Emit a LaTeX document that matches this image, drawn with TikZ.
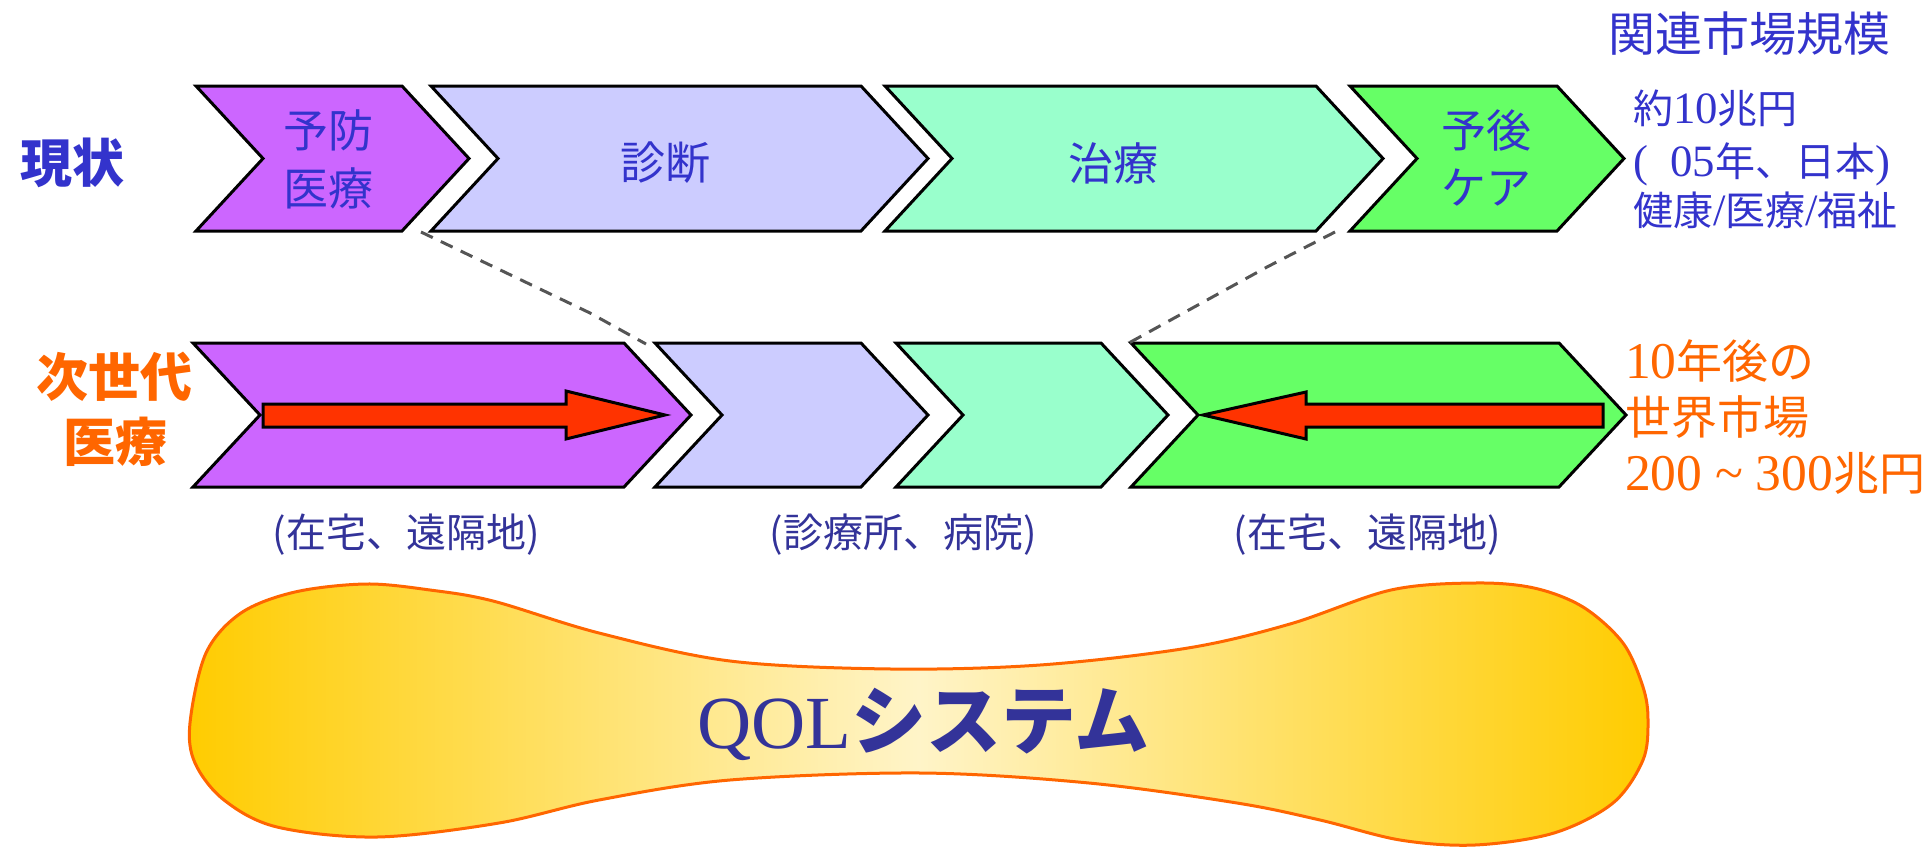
\documentclass[tikz,border=0pt]{standalone}
\usepackage{fontspec}
\setmainfont{Liberation Serif}
\newfontfamily\jp{Noto Sans CJK JP}
\newfontfamily\sr{Liberation Serif}[Scale=1.12]
\definecolor{cpurple}{HTML}{CC66FF}
\definecolor{clav}{HTML}{CCCCFF}
\definecolor{cmint}{HTML}{99FFCC}
\definecolor{cgreen}{HTML}{66FF66}
\definecolor{cred}{HTML}{FF3300}
\definecolor{cblue}{HTML}{3333CC}
\definecolor{cnavy}{HTML}{333399}
\definecolor{corange}{HTML}{FF6600}
\definecolor{cgold}{HTML}{FFCC00}
\definecolor{ccream}{HTML}{FFF4C8}
\definecolor{cgray}{HTML}{555555}
\newcommand\fs[1]{\fontsize{#1}{#1}\selectfont}
% chevron: #1 name, #2 left x, #3 corner x, #4 top y, #5 bottom y, #6 fill
\newcommand\chevron[6]{%
  \path[chev, fill=#6] (#2,#4) -- (#3,#4) -- ({#3+67},{(#4+#5)/2}) -- (#3,#5)
    -- (#2,#5) -- ({#2+67},{(#4+#5)/2}) -- cycle;
  \coordinate (#1-nw) at (#2,#4);
  \coordinate (#1-sw) at (#2,#5);
  \coordinate (#1-ne) at (#3,#4);
  \coordinate (#1-se) at (#3,#5);
}
\begin{document}
\begin{tikzpicture}[x=1pt,y=-1pt,
  chev/.style={draw=black, line width=3pt, line join=miter},
  redarrow/.style={draw=black, fill=cred, line width=3pt, line join=miter},
  dashline/.style={draw=cgray, line width=3pt, dash pattern=on 13pt off 9pt},
  lbl/.style={inner sep=0pt, outer sep=0pt},
  boxtxt/.style={lbl, text=cblue, font=\jp\fs{45}},
  rowtitle/.style={lbl, font=\jp\bfseries\fs{52}},
  sitetxt/.style={lbl, text=cnavy, font=\jp\fs{40}},
  bluenote/.style={lbl, anchor=base west, text=cblue, font=\sr\fs{40}},
  orangenote/.style={lbl, anchor=base west, text=corange, font=\sr\fs{46}}]
\useasboundingbox (0,0) rectangle (1930,846);

% QOL blob
\path[draw=corange, line width=3pt, left color=cgold, right color=cgold, middle color=ccream]
  plot[smooth cycle, tension=0.55] coordinates {
  (190,723) (206,653) (241,613) (295,592) (366,584) (430,590) (493,601)
  (599,633) (730,661) (891,669) (1040,665) (1188,648) (1290,624) (1391,590)
  (1475,583) (1534,588) (1583,607) (1623,643) (1643,687) (1648,720)
  (1643,760) (1613,803) (1554,833) (1475,845) (1400,840) (1320,820)
  (1237,803) (1089,783) (921,773) (730,780) (599,800) (499,823) (377,837)
  (277,827) (224,800) (195,763)};
\node[lbl, anchor=base, text=cnavy, font=\fs{75}] (qol) at (923,748) {QOL{\jp\bfseries システム}};

% top row
\chevron{t1}{196}{402}{86}{231}{cpurple}
\chevron{t2}{431}{861}{86}{231}{clav}
\chevron{t3}{885}{1316}{86}{231}{cmint}
\chevron{t4}{1350}{1557}{86}{231}{cgreen}

% bottom row
\chevron{b1}{193}{624}{343}{487}{cpurple}
\chevron{b2}{655}{861}{343}{487}{clav}
\chevron{b3}{896}{1101}{343}{487}{cmint}
\chevron{b4}{1131}{1559}{343}{487}{cgreen}

% red arrows
\path[redarrow] (263,404) -- (566,404) -- (566,391) -- (665,415) -- (566,439)
  -- (566,427) -- (263,427) -- cycle;
\path[redarrow] (1203,415) -- (1306,392) -- (1306,404) -- (1603,404) -- (1603,427)
  -- (1306,427) -- (1306,439) -- cycle;

% dashed connectors
\coordinate (d1s) at (421,232);
\coordinate (d1e) at (646,344);
\coordinate (d2s) at (1335,232);
\coordinate (d2e) at (1127,344);
\draw[dashline] (d1s) -- (590,313) -- (d1e);
\draw[dashline] (d2s) -- (1267,267) -- (d2e);

% texts top row
\node[rowtitle, text=cblue] (genjo) at (72,163) {現状};
\node[boxtxt] (yobo1) at (328,130) {予防};
\node[boxtxt] (yobo2) at (328,188) {医療};
\node[boxtxt] (shindan) at (665,163) {診断};
\node[boxtxt] (chiryo) at (1113,163) {治療};
\node[boxtxt] (yogo1) at (1486,130) {予後};
\node[boxtxt] (yogo2) at (1486,188) {ケア};
\node[lbl, text=cblue, font=\jp\fs{47}] (kanren) at (1749,34) {関連市場規模};
\node[bluenote] (m1) at (1633,123) {{\jp 約}10{\jp 兆円}};
\node[bluenote] (m2) at (1633,176) {(\enspace 05{\jp 年、日本})};
\node[bluenote] (m3) at (1633,225) {{\jp 健康}/{\jp 医療}/{\jp 福祉}};

% texts bottom row
\node[rowtitle, text=corange] (jisedai1) at (114,377) {次世代};
\node[rowtitle, text=corange] (jisedai2) at (115,442) {医療};
\node[orangenote] (o1) at (1625,378) {10{\jp 年後の}};
\node[orangenote] (o2) at (1625,434) {{\jp 世界市場}};
\node[orangenote] (o3) at (1625,490) {200 \textasciitilde{} 300{\jp 兆円}};

\node[sitetxt] (s1) at (406,535) {(在宅、遠隔地)};
\node[sitetxt] (s2) at (903,535) {(診療所、病院)};
\node[sitetxt] (s3) at (1367,535) {(在宅、遠隔地)};
\end{tikzpicture}
\end{document}
